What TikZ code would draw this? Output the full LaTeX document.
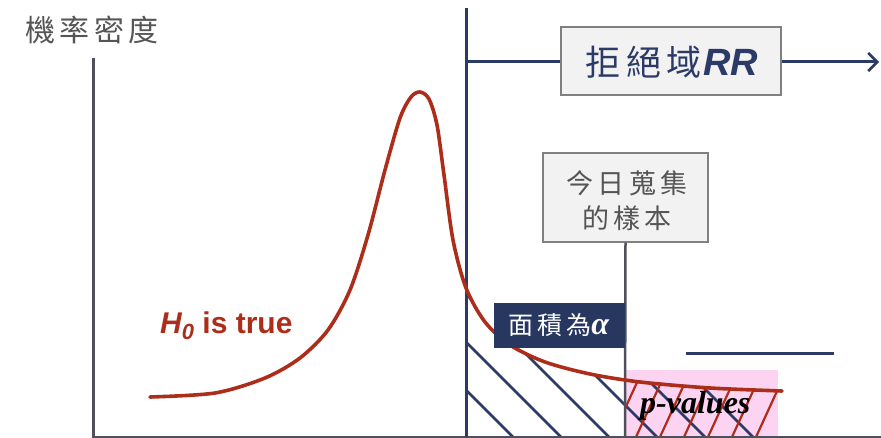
\documentclass[tikz,border=0pt]{standalone}
\usepackage{fontspec}
\newfontfamily\cjk{Noto Sans CJK TC}
\newfontfamily\cjkls{Noto Sans CJK TC}[LetterSpace=15]
\newfontfamily\lsans{Liberation Sans}
\newfontfamily\lserif{Liberation Serif}
\usetikzlibrary{arrows.meta}
\definecolor{navy}{RGB}{43,58,102}
\definecolor{boxnavy}{RGB}{39,55,95}
\definecolor{curvered}{RGB}{172,45,25}
\definecolor{axisgray}{RGB}{80,80,92}
\definecolor{txtgray}{RGB}{85,85,85}
\definecolor{boxfill}{RGB}{242,242,242}
\definecolor{boxline}{RGB}{128,128,128}
\definecolor{pinkfill}{RGB}{252,212,242}
\tikzset{
  graybox/.style={draw=boxline, line width=1.5pt, fill=boxfill, inner sep=0pt},
  axisline/.style={draw=axisgray, line width=3pt},
  navyline/.style={draw=navy, line width=3pt},
  hatchnavy/.style={draw=navy, line width=2.6pt},
  hatchred/.style={draw=curvered, line width=2.2pt},
  curveline/.style={draw=curvered, line width=3.6pt, line cap=round},
}
\def\curvepath{plot[smooth] coordinates {(150,397) (215,393) (265,378) (300,358) (328,330) (350,290) (368,235) (385,170) (400,118) (411,97) (420,92) (429,99) (437,125) (444,175) (453,240) (466,288) (485,322) (510,345) (545,362) (590,374) (640,382) (710,388) (782,391)}}
\begin{document}
\begin{tikzpicture}[x=1pt,y=-1pt]
\useasboundingbox (0,0) rectangle (881,438);

% pink p-value region
\fill[pinkfill] (625,370) rectangle (778,437);

% navy hatch (area alpha)
\begin{scope}
  \clip (466,200) rectangle (778,437);
  \clip \curvepath -- (782,437) -- (150,437) -- cycle;
  \foreach \b in {513,561,...,753} \draw[hatchnavy] (\b,437) -- ++(-300,-300);
\end{scope}

% red hatch (p-value)
\begin{scope}
  \clip (625,370) rectangle (778,437);
  \clip \curvepath -- (782,437) -- (150,437) -- cycle;
  \foreach \b in {612,636,...,756} \draw[hatchred] (\b,437) -- ++(44,-96);
\end{scope}

% axes
\coordinate (ytop) at (93,58);
\coordinate (origin) at (93,437);
\coordinate (xend) at (881,437);
\draw[axisline] (ytop) -- (origin) -- (xend);

% critical value line
\coordinate (cvtop) at (466,8);
\coordinate (cvbot) at (466,437);
\draw[navyline] (cvtop) -- (cvbot);

% sample box and line
\node[graybox, minimum width=165pt, minimum height=89pt] (sample) at (625.5,197.5) {};
\node[text=txtgray, align=center, font=\cjkls\fontsize{27}{35}\selectfont] (sampletxt) at (627,201) {今日蒐集\\的樣本};
\coordinate (sbot) at (625,437);
\draw[draw=axisgray, line width=2.5pt] (sample.south) -- (sbot);

% curve
\draw[curveline] \curvepath;

% rejection region arrow
\coordinate (rrL) at (466,62);
\coordinate (rrR) at (879,62);
\draw[navyline, -{Straight Barb[length=9pt,width=18pt,line width=2.5pt]}] (rrL) -- (rrR);
\node[graybox, minimum width=220pt, minimum height=68pt] (rr) at (671,61) {};
\node[text=navy, anchor=center] (rrtxt) at (672,62) {{\cjkls\fontsize{35}{38}\selectfont 拒絕域}\hspace{2pt}{\lsans\bfseries\itshape\fontsize{38}{38}\selectfont RR}};

% title
\node[text=txtgray, font=\cjkls\fontsize{30}{32}\selectfont] (title) at (92,30) {機率密度};

% area alpha label
\node[fill=boxnavy, minimum width=131pt, minimum height=45pt, inner sep=0pt] (alpha) at (559.5,325.5) {};
\node[text=white] (alphatxt) at (559,325) {{\cjkls\fontsize{25}{28}\selectfont 面積為}{\lserif\bfseries\itshape\fontsize{32}{32}\selectfont α}};

% short navy line
\coordinate (nl1) at (686,354);
\coordinate (nl2) at (834,354);
\draw[navyline] (nl1) -- (nl2);

% H0 label
\node[text=curvered, anchor=base west, inner sep=0pt] (h0) at (160,334) {\lsans\bfseries\fontsize{30}{32}\selectfont\itshape H\raisebox{-6pt}{\fontsize{22}{22}\selectfont 0}\upshape\ is true};

% p-values label
\node[text=black, anchor=base west, inner sep=0pt] (pv) at (640,413) {\lserif\bfseries\itshape\fontsize{32}{32}\selectfont p-values};
\end{tikzpicture}
\end{document}
